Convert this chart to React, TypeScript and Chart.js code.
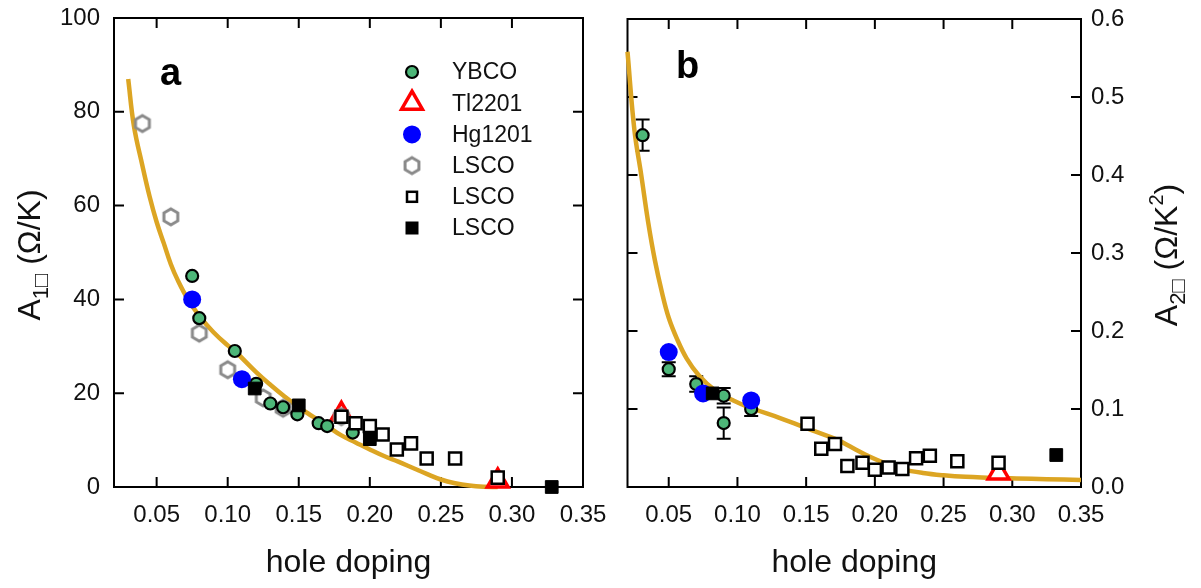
import React, { useEffect, useRef } from 'react';
import { Chart, registerables } from 'chart.js';
Chart.register(...registerables);

const FONT = "'Liberation Sans', Arial, Helvetica, sans-serif";

// ---------- shared ticks ----------
const xTicks = [0.05, 0.1, 0.15, 0.2, 0.25, 0.3, 0.35];
const aYTicks = [0, 20, 40, 60, 80, 100];
const bYTicks = [0, 0.1, 0.2, 0.3, 0.4, 0.5, 0.6];

// ---------- panel a data ----------
const aYbcoX = [0.075, 0.08, 0.105, 0.12, 0.13, 0.139, 0.149, 0.164, 0.17, 0.188];
const aYbcoY = [45, 36, 29, 22, 17.8, 17, 15.5, 13.6, 13, 11.6];
const aTlX = [0.18, 0.29];
const aTlY = [15.5, 1.3];
const aHgX = [0.075, 0.11];
const aHgY = [40, 23];
const aHexX = [0.04, 0.06, 0.08, 0.1, 0.125, 0.139, 0.18];
const aHexY = [77.5, 57.6, 32.8, 25, 19, 16.8, 15];
const aOpenX = [0.18, 0.19, 0.2, 0.209, 0.219, 0.229, 0.24, 0.26, 0.29];
const aOpenY = [15, 13.6, 13, 11.2, 8, 9.3, 6.1, 6.1, 2];
const aFillX = [0.119, 0.15, 0.2, 0.328];
const aFillY = [21, 17.4, 10.2, 0];
const aFitX = [0.03, 0.034, 0.04, 0.045, 0.05, 0.055, 0.06, 0.065, 0.072, 0.08, 0.09, 0.1, 0.105, 0.12, 0.13, 0.14, 0.15, 0.16, 0.17, 0.18, 0.19, 0.2, 0.21, 0.22, 0.23, 0.24, 0.25, 0.26, 0.27, 0.28, 0.29];
const aFitY = [87, 77, 68.5, 62, 56.5, 52, 47.5, 44, 40, 36.5, 33, 30.2, 29, 24.5, 21.8, 19.3, 17, 15, 13, 11, 9.5, 8, 6.6, 5.4, 4.1, 2.8, 1.6, 0.8, 0.3, 0.05, 0];

// ---------- panel b data ----------
const bYbcoX = [0.031, 0.05, 0.07, 0.09, 0.09, 0.11];
const bYbcoY = [0.451, 0.151, 0.132, 0.117, 0.082, 0.1];
const bYbcoErr = [0.02, 0.009, 0.01, 0.01, 0.02, 0.009];
const bHgX = [0.05, 0.075, 0.11];
const bHgY = [0.173, 0.12, 0.111];
const bFillX = [0.082, 0.332];
const bFillY = [0.12, 0.041];
const bOpenX = [0.151, 0.161, 0.171, 0.18, 0.191, 0.2, 0.21, 0.22, 0.23, 0.24, 0.26, 0.29];
const bOpenY = [0.081, 0.049, 0.055, 0.027, 0.031, 0.022, 0.025, 0.023, 0.037, 0.04, 0.033, 0.031];
const bTlX = [0.29];
const bTlY = [0.018];
const bFitX = [0.02, 0.025, 0.03, 0.035, 0.04, 0.045, 0.05, 0.056, 0.063, 0.072, 0.083, 0.097, 0.112, 0.13, 0.148, 0.16, 0.172, 0.184, 0.196, 0.208, 0.22, 0.235, 0.25, 0.266, 0.285, 0.303, 0.325, 0.35];
const bFitY = [0.558, 0.458, 0.4, 0.34, 0.29, 0.25, 0.217, 0.19, 0.165, 0.143, 0.125, 0.111, 0.1, 0.089, 0.077, 0.069, 0.061, 0.05, 0.039, 0.03, 0.023, 0.018, 0.015, 0.013, 0.012, 0.011, 0.01, 0.009];

const legendLabels = ['YBCO', 'Tl2201', 'Hg1201', 'LSCO', 'LSCO', 'LSCO'];

const GREEN = 'rgb(77,182,120)';
const GOLD = 'rgb(220,165,35)';
const BLUE = '#0000ff';
const RED = '#ff0000';
const GRAY = '#8a8a8a';

const pts = (xs: number[], ys: number[]) => xs.map((x, i) => ({ x, y: ys[i] }));

function makeHex(r: number): HTMLCanvasElement {
  const c = document.createElement('canvas');
  const s = Math.ceil(r * 2 + 6);
  c.width = s;
  c.height = s;
  const g = c.getContext('2d')!;
  const cx = s / 2;
  g.beginPath();
  for (let k = 0; k < 6; k++) {
    const ang = -Math.PI / 2 + (k * Math.PI) / 3;
    const px = cx + r * Math.cos(ang);
    const py = cx + r * Math.sin(ang);
    if (k === 0) g.moveTo(px, py);
    else g.lineTo(px, py);
  }
  g.closePath();
  g.fillStyle = '#fff';
  g.fill();
  g.lineWidth = 3;
  g.strokeStyle = GRAY;
  g.stroke();
  return c;
}

function styles(hex: HTMLCanvasElement) {
  return {
    open: { pointStyle: 'rect', pointRadius: 8.5, backgroundColor: '#fff', borderColor: '#000', pointBorderWidth: 2.5 },
    fill: { pointStyle: 'rect', pointRadius: 9, backgroundColor: '#000', borderColor: '#000', pointBorderWidth: 1 },
    hg: { pointStyle: 'circle', pointRadius: 9, backgroundColor: BLUE, borderColor: BLUE, pointBorderWidth: 0 },
    ybco: { pointStyle: 'circle', pointRadius: 6, backgroundColor: GREEN, borderColor: '#000', pointBorderWidth: 2.2 },
    hex: { pointStyle: hex, pointRadius: 9 },
    tl: { pointStyle: 'triangle', pointRadius: 12, backgroundColor: '#fff', borderColor: RED, pointBorderWidth: 3.5 },
  } as any;
}

function sc(label: string, data: any[], st: any) {
  return { type: 'scatter', label, data, showLine: false, clip: false, ...st };
}

function fit(data: any[]) {
  return {
    type: 'scatter',
    label: 'fit',
    data,
    showLine: true,
    clip: false,
    borderColor: GOLD,
    borderWidth: 4.5,
    pointRadius: 0,
    tension: 0.4,
    fill: false,
  };
}

function drawParts(ctx: CanvasRenderingContext2D, cx: number, cy: number, parts: { t: string; size: number; dy: number }[]) {
  ctx.save();
  ctx.translate(cx, cy);
  ctx.rotate(-Math.PI / 2);
  ctx.fillStyle = '#111';
  ctx.textBaseline = 'alphabetic';
  ctx.textAlign = 'left';
  let w = 0;
  parts.forEach((p) => {
    ctx.font = `${p.size}px ${FONT}`;
    w += ctx.measureText(p.t).width;
  });
  let x = -w / 2;
  parts.forEach((p) => {
    ctx.font = `${p.size}px ${FONT}`;
    ctx.fillText(p.t, x, p.dy);
    x += ctx.measureText(p.t).width;
  });
  ctx.restore();
}

function framePlugin(yTicks: number[], yId: string) {
  return {
    id: 'frame_' + yId,
    beforeDatasetsDraw(chart: any) {
      const { ctx, chartArea: a } = chart;
      const xs = chart.scales.x;
      const ys = chart.scales[yId];
      ctx.save();
      ctx.strokeStyle = '#000';
      ctx.lineWidth = 2;
      ctx.strokeRect(a.left, a.top, a.right - a.left, a.bottom - a.top);
      ctx.beginPath();
      const T = 10;
      xTicks.forEach((v) => {
        const px = xs.getPixelForValue(v);
        ctx.moveTo(px, a.bottom);
        ctx.lineTo(px, a.bottom - T);
        ctx.moveTo(px, a.top);
        ctx.lineTo(px, a.top + T);
      });
      yTicks.forEach((v) => {
        const py = ys.getPixelForValue(v);
        ctx.moveTo(a.left, py);
        ctx.lineTo(a.left + T, py);
        ctx.moveTo(a.right, py);
        ctx.lineTo(a.right - T, py);
      });
      ctx.stroke();
      ctx.restore();
    },
  };
}

function drawMarker(ctx: CanvasRenderingContext2D, kind: string, x: number, y: number, hex: HTMLCanvasElement) {
  ctx.save();
  if (kind === 'ybco') {
    ctx.beginPath();
    ctx.arc(x, y, 6, 0, Math.PI * 2);
    ctx.fillStyle = GREEN;
    ctx.fill();
    ctx.lineWidth = 2.2;
    ctx.strokeStyle = '#000';
    ctx.stroke();
  } else if (kind === 'tl') {
    const r = 12;
    ctx.beginPath();
    ctx.moveTo(x, y - r);
    ctx.lineTo(x + r * Math.sin((2 * Math.PI) / 3), y - r * Math.cos((2 * Math.PI) / 3));
    ctx.lineTo(x + r * Math.sin((4 * Math.PI) / 3), y - r * Math.cos((4 * Math.PI) / 3));
    ctx.closePath();
    ctx.fillStyle = '#fff';
    ctx.fill();
    ctx.lineWidth = 3.5;
    ctx.strokeStyle = RED;
    ctx.stroke();
  } else if (kind === 'hg') {
    ctx.beginPath();
    ctx.arc(x, y, 9, 0, Math.PI * 2);
    ctx.fillStyle = BLUE;
    ctx.fill();
  } else if (kind === 'hex') {
    ctx.drawImage(hex, x - hex.width / 2, y - hex.height / 2);
  } else if (kind === 'open') {
    ctx.fillStyle = '#fff';
    ctx.fillRect(x - 5, y - 5, 10, 10);
    ctx.lineWidth = 2.5;
    ctx.strokeStyle = '#000';
    ctx.strokeRect(x - 5, y - 5, 10, 10);
  } else if (kind === 'fill') {
    ctx.fillStyle = '#000';
    ctx.fillRect(x - 6.5, y - 6.5, 13, 13);
  }
  ctx.restore();
}

function zeroPad(s: any) {
  s.paddingLeft = 0;
  s.paddingRight = 0;
  s.paddingTop = 0;
  s.paddingBottom = 0;
}

function xScale() {
  return {
    type: 'linear',
    min: 0.02,
    max: 0.35,
    afterBuildTicks: (s: any) => {
      s.ticks = xTicks.map((v) => ({ value: v }));
    },
    ticks: {
      font: { size: 24, family: FONT },
      color: '#111',
      padding: 14,
      autoSkip: false,
      maxRotation: 0,
      callback: (v: any) => Number(v).toFixed(2),
    },
    grid: { display: false, drawTicks: false },
    border: { display: false },
    afterFit: (s: any) => {
      s.height = 101;
      zeroPad(s);
    },
  };
}

export default function App() {
  const refA = useRef<HTMLCanvasElement>(null);
  const refB = useRef<HTMLCanvasElement>(null);

  useEffect(() => {
    document.body.style.margin = '0';
    const hex = makeHex(8);
    const st = styles(hex);

    const textPluginA = {
      id: 'textA',
      afterDraw(chart: any) {
        const { ctx, chartArea: a } = chart;
        ctx.save();
        ctx.fillStyle = '#111';
        ctx.font = `32px ${FONT}`;
        ctx.textAlign = 'center';
        ctx.textBaseline = 'alphabetic';
        ctx.fillText('hole doping', (a.left + a.right) / 2, 572);
        ctx.font = `bold 38px ${FONT}`;
        ctx.textAlign = 'left';
        ctx.fillStyle = '#000';
        ctx.fillText('a', 160, 85);
        // legend
        const kinds = ['ybco', 'tl', 'hg', 'hex', 'open', 'fill'];
        ctx.font = `23px ${FONT}`;
        ctx.textBaseline = 'middle';
        kinds.forEach((k, i) => {
          const y = 72 + i * 31.2;
          drawMarker(ctx, k, 412, y, hex);
          ctx.fillStyle = '#111';
          ctx.fillText(legendLabels[i], 452, y + 1);
        });
        ctx.restore();
        drawParts(ctx, 40, 255, [
          { t: 'A', size: 32, dy: 0 },
          { t: '1□', size: 22, dy: 8 },
          { t: ' (Ω/K)', size: 32, dy: 0 },
        ]);
      },
    };

    const chartA = new Chart(refA.current!, {
      type: 'scatter',
      data: {
        datasets: [
          sc('LSCO open', pts(aOpenX, aOpenY), st.open),
          sc('LSCO filled', pts(aFillX, aFillY), st.fill),
          sc('Hg1201', pts(aHgX, aHgY), st.hg),
          sc('YBCO', pts(aYbcoX, aYbcoY), st.ybco),
          sc('LSCO hex', pts(aHexX, aHexY), st.hex),
          sc('Tl2201', pts(aTlX, aTlY), st.tl),
          fit(pts(aFitX, aFitY)),
        ] as any,
      },
      options: {
        responsive: false,
        animation: false,
        events: [],
        layout: { padding: { left: 0, right: 29, top: 18, bottom: 0 } },
        plugins: { legend: { display: false }, tooltip: { enabled: false } },
        scales: {
          x: xScale(),
          y: {
            type: 'linear',
            min: 0,
            max: 100,
            afterBuildTicks: (s: any) => {
              s.ticks = aYTicks.map((v) => ({ value: v }));
            },
            ticks: {
              font: { size: 24, family: FONT },
              color: '#111',
              padding: 14,
              callback: (v: any) => String(v),
            },
            grid: { display: false, drawTicks: false },
            border: { display: false },
            afterFit: (s: any) => {
              s.width = 114;
              zeroPad(s);
            },
          },
        },
      } as any,
      plugins: [framePlugin(aYTicks, 'y'), textPluginA],
    });

    const errPlugin = {
      id: 'errB',
      beforeDatasetsDraw(chart: any) {
        const { ctx } = chart;
        const xs = chart.scales.x;
        const ys = chart.scales.y;
        ctx.save();
        ctx.strokeStyle = '#000';
        ctx.lineWidth = 2;
        ctx.beginPath();
        bYbcoX.forEach((xv, i) => {
          const px = xs.getPixelForValue(xv);
          const top = ys.getPixelForValue(bYbcoY[i] + bYbcoErr[i]);
          const bot = ys.getPixelForValue(bYbcoY[i] - bYbcoErr[i]);
          ctx.moveTo(px, top);
          ctx.lineTo(px, bot);
          ctx.moveTo(px - 7, top);
          ctx.lineTo(px + 7, top);
          ctx.moveTo(px - 7, bot);
          ctx.lineTo(px + 7, bot);
        });
        ctx.stroke();
        ctx.restore();
      },
    };

    const textPluginB = {
      id: 'textB',
      afterDraw(chart: any) {
        const { ctx, chartArea: a } = chart;
        ctx.save();
        ctx.fillStyle = '#111';
        ctx.font = `32px ${FONT}`;
        ctx.textAlign = 'center';
        ctx.textBaseline = 'alphabetic';
        ctx.fillText('hole doping', (a.left + a.right) / 2, 572);
        ctx.font = `bold 38px ${FONT}`;
        ctx.textAlign = 'left';
        ctx.fillStyle = '#000';
        ctx.fillText('b', 676 - 612, 78);
        ctx.restore();
        drawParts(ctx, 1177 - 612, 255, [
          { t: 'A', size: 32, dy: 0 },
          { t: '2□', size: 22, dy: 8 },
          { t: ' (Ω/K', size: 32, dy: 0 },
          { t: '2', size: 20, dy: -14 },
          { t: ')', size: 32, dy: 0 },
        ]);
      },
    };

    const chartB = new Chart(refB.current!, {
      type: 'scatter',
      data: {
        datasets: [
          sc('LSCO open', pts(bOpenX, bOpenY), st.open),
          sc('LSCO filled', pts(bFillX, bFillY), st.fill),
          sc('Hg1201', pts(bHgX, bHgY), st.hg),
          sc('YBCO', pts(bYbcoX, bYbcoY), st.ybco),
          sc('Tl2201', pts(bTlX, bTlY), st.tl),
          fit(pts(bFitX, bFitY)),
        ] as any,
      },
      options: {
        responsive: false,
        animation: false,
        events: [],
        layout: { padding: { left: 10, right: 0, top: 19, bottom: 0 } },
        plugins: { legend: { display: false }, tooltip: { enabled: false } },
        scales: {
          x: xScale(),
          y: {
            type: 'linear',
            position: 'right',
            min: 0,
            max: 0.6,
            afterBuildTicks: (s: any) => {
              s.ticks = bYTicks.map((v) => ({ value: v }));
            },
            ticks: {
              font: { size: 24, family: FONT },
              color: '#111',
              padding: 10,
              callback: (v: any) => Number(v).toFixed(1),
            },
            grid: { display: false, drawTicks: false },
            border: { display: false },
            afterFit: (s: any) => {
              s.width = 120;
              zeroPad(s);
            },
          },
        },
      } as any,
      plugins: [framePlugin(bYTicks, 'y'), errPlugin, textPluginB],
    });

    return () => {
      chartA.destroy();
      chartB.destroy();
    };
  }, []);

  return (
    <div style={{ position: 'relative', width: 1201, height: 588, background: '#fff', overflow: 'hidden' }}>
      <canvas ref={refA} width={612} height={588} style={{ position: 'absolute', left: 0, top: 0, width: 612, height: 588 }} />
      <canvas ref={refB} width={589} height={588} style={{ position: 'absolute', left: 612, top: 0, width: 589, height: 588 }} />
    </div>
  );
}
